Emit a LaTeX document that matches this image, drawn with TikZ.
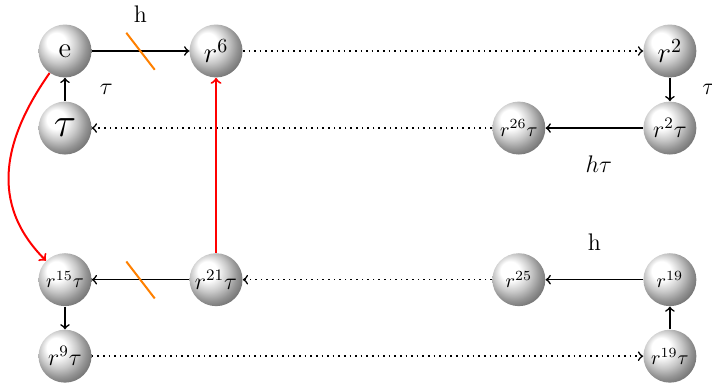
\documentclass[tikz,border=0pt]{standalone}
\usepackage{amsmath}
\usetikzlibrary{positioning,shadings}

\pgfdeclareradialshading{pearl}{\pgfpoint{-10bp}{10bp}}{color(0bp)=(white);
	color(9bp)=(white); color(18bp)=(white!78!black); color(25bp)=(white!58!black);
	color(50bp)=(black)}

\newcommand{\inball}[2][]{\makebox[0pt]{#1#2}}

\begin{document}
\begin{tikzpicture}[
	node distance=0.41cm and 1.71cm,
	ball/.style={circle, shading=pearl, minimum size=0.93cm, inner sep=0pt},
	tag/.style={font=\large},
	arr/.style={->, thick},
	dots/.style={->, thick, dotted},
	redarr/.style={->, line width=1pt, red},
	cut/.style={line width=1pt, orange}
	]
	\useasboundingbox (-1.142,0.896) rectangle (11.368,-5.816);

	\node[ball] (e) at (0,0) {\inball[\Large]{e}};
	\node[ball, right=of e] (r6) {\inball[\Large]{$r^6$}};
	\node[ball, right=7.03cm of r6] (r2) {\inball[\Large]{$r^2$}};
	\node[ball, below=of e] (tau) {\inball[\huge]{$\tau$}};
	\node[ball, below=of r2] (r2t) {\inball[\large]{$r^2\tau$}};
	\node[ball, left=of r2t] (r26t) {\inball{$r^{26}\tau$}};

	\node[ball, below=1.72cm of tau] (r15t) {\inball{$r^{15}\tau$}};
	\node[ball, right=of r15t] (r21t) {\inball[\large]{$r^{21}\tau$}};
	\node[ball, below=1.72cm of r2t] (r19) {\inball{$r^{19}$}};
	\node[ball, left=of r19] (r25) {\inball{$r^{25}$}};
	\node[ball, below=0.40cm of r15t] (r9t) {\inball[\large]{$r^9\tau$}};
	\node[ball, below=0.40cm of r19] (r19t) {\inball{$r^{19}\tau$}};

	% solid steps
	\draw[arr] (e) -- (r6) coordinate[midway] (cuttop);
	\draw[arr] (tau) -- (e) node[tag, midway, right=0.48cm] (tlab) {$\tau$};
	\draw[arr] (r2) -- (r2t) node[tag, midway, right=0.44cm] (tlabr) {$\tau$};
	\draw[arr] (r2t) -- (r26t) node[tag, midway, below=0.36cm, xshift=0.08cm] (htlab) {$h\tau$};
	\draw[arr] (r21t) -- (r15t) coordinate[midway] (cutbot);
	\draw[arr] (r15t) -- (r9t);
	\draw[arr] (r19) -- (r25) node[tag, midway, above=0.38cm] (hlabr) {h};
	\draw[arr] (r19t) -- (r19);

	% dotted steps
	\draw[dots] (r6) -- (r2);
	\draw[dots] (r26t) -- (tau);
	\draw[dots] (r25) -- (r21t);
	\draw[dots] (r9t) -- (r19t);

	% red ones
	\draw[redarr] (r21t) -- (r6);
	\draw[redarr] (e) to[out=235, in=135, looseness=1.1] (r15t);

	% cuts
	\draw[cut] ([shift={(-0.25,0.32)}]cuttop) -- ([shift={(0.25,-0.33)}]cuttop);
	\draw[cut] ([shift={(-0.25,0.32)}]cutbot) -- ([shift={(0.25,-0.33)}]cutbot);
	\node[tag, above=0.38cm of cuttop] (hlab) {h};
\end{tikzpicture}
\end{document}
